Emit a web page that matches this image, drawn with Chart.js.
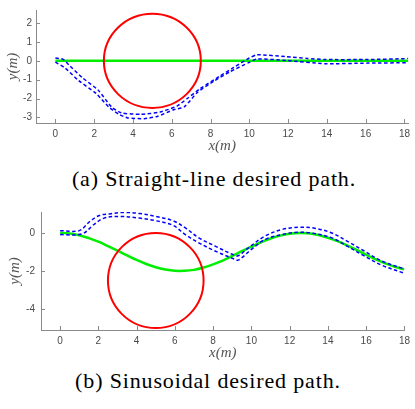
<!DOCTYPE html>
<html>
<head>
<meta charset="utf-8">
<script src="https://cdn.jsdelivr.net/npm/chart.js@4/dist/chart.umd.min.js"></script>
<style>
  html, body { margin: 0; padding: 0; background: #fff; overflow: hidden; width: 415px; height: 409px; }
  .box { position: absolute; left: 0; }
  canvas { display: block; }
  .cap { position: absolute; left: 0; width: 415px; box-sizing: border-box; text-align: center; white-space: nowrap;
         font-family: 'Liberation Serif', serif; font-size: 22px; line-height: 22px; letter-spacing: 0.85px; color: #000; }
</style>
</head>
<body>
<div class="box" style="top:0px;"><canvas id="c1" width="415" height="157"></canvas></div>
<div class="cap" id="capA" style="top:168px; padding-left:13px;">(a) Straight-line desired path.</div>
<div class="box" style="top:200px;"><canvas id="c2" width="415" height="164"></canvas></div>
<div class="cap" id="capB" style="top:370px; padding-left:1px;">(b) Sinusoidal desired path.</div>
<script>
// ---------- data ----------
const xTickValues = [0, 2, 4, 6, 8, 10, 12, 14, 16, 18];
const topYTickValues = [-3, -2, -1, 0, 1, 2];
const botYTickValues = [-4, -2, 0];

// (a) straight-line path
const topPathX = [0, 18.2];
const topPathY = [0, 0];
const topTrackAX = [0, 0.4, 0.7, 1.4, 2.2, 2.9, 3.4, 4.4, 5.4, 6.27, 6.8, 7.46, 8.47, 9.2, 10.0, 10.4, 11.9, 13.0, 13.9, 16.1, 18.2];
const topTrackAY = [0.15, 0.08, -0.22, -0.9, -1.55, -2.45, -2.76, -2.84, -2.72, -2.4, -2.0, -1.48, -0.82, -0.35, 0.15, 0.32, 0.22, 0.13, 0.07, 0.07, 0.12];
const topTrackBX = [0, 0.5, 1.2, 2.1, 2.75, 3.3, 3.73, 4.58, 5.25, 6.1, 6.64, 7.32, 8.17, 9.0, 10.0, 10.4, 11.9, 13.9, 16.1, 18.2];
const topTrackBY = [-0.07, -0.38, -1.05, -1.73, -2.45, -2.85, -3.03, -3.07, -2.95, -2.6, -2.45, -1.68, -1.08, -0.58, -0.08, 0.1, 0.02, -0.15, -0.12, -0.1];
const topObstacleCenter = [5, 0];
const topObstacleRadius = 2.5;

// (b) sinusoidal path
const botPathX = [0, 0.5, 1, 1.5, 2, 2.5, 3, 3.5, 4, 4.5, 5, 5.5, 6, 6.5, 7, 7.5, 8, 8.5, 9, 9.5, 10, 10.5, 11, 11.5, 12, 12.5, 13, 13.5, 14, 14.5, 15, 15.5, 16, 16.5, 17, 17.5, 18];
const botPathY = [0, -0.03, -0.12, -0.27, -0.46, -0.69, -0.93, -1.18, -1.42, -1.63, -1.80, -1.92, -1.99, -1.99, -1.94, -1.82, -1.65, -1.45, -1.21, -0.96, -0.72, -0.49, -0.29, -0.14, -0.04, 0, -0.02, -0.11, -0.25, -0.43, -0.65, -0.89, -1.15, -1.39, -1.60, -1.78, -1.91];
const botTrackAX = [0, 1.0, 1.55, 2.05, 2.6, 3.3, 4.15, 5.0, 5.9, 6.55, 7.25, 8.1, 9.0, 9.3, 9.85, 10.7, 11.6, 12.5, 13.3, 14.2, 15.0, 15.9, 16.8, 18];
const botTrackAY = [0.12, 0.12, 0.6, 0.92, 1.0, 1.08, 1.02, 0.87, 0.64, 0.26, -0.26, -0.69, -1.12, -1.2, -0.78, -0.17, 0.18, 0.3, 0.25, 0.0, -0.43, -0.95, -1.47, -1.9];
const botTrackBX = [0, 1.15, 1.75, 2.3, 3.1, 4.15, 5.0, 5.9, 6.55, 7.25, 8.1, 9.0, 9.3, 10.0, 10.7, 11.6, 12.5, 13.3, 14.2, 15.0, 15.9, 16.8, 18];
const botTrackBY = [-0.09, -0.05, 0.43, 0.78, 0.87, 0.78, 0.64, 0.4, -0.09, -0.52, -0.95, -1.33, -1.43, -0.86, -0.35, -0.09, 0.04, -0.03, -0.26, -0.69, -1.21, -1.69, -2.12];
const botObstacleCenter = [5, -2.5];
const botObstacleRadius = 2.5;

// ---------- helpers ----------
const zip = (xs, ys) => xs.map((x, i) => ({ x: x, y: ys[i] }));
const AXIS_COLOR = '#8a8a8a';
const LABEL_COLOR = '#4a4a4a';
const tickFont = { family: "'Liberation Sans', sans-serif", size: 10 };
const titleFont = { family: "'Liberation Serif', serif", size: 15, style: 'italic' };

const inwardTicks = {
  id: 'inwardTicks',
  afterDraw(chart) {
    const { ctx, chartArea: a, scales: { x, y } } = chart;
    ctx.save();
    ctx.strokeStyle = AXIS_COLOR;
    ctx.lineWidth = 1;
    ctx.beginPath();
    x.ticks.forEach(t => {
      const px = Math.round(x.getPixelForValue(t.value)) + 0.5;
      ctx.moveTo(px, a.bottom); ctx.lineTo(px, a.bottom - 4);
    });
    y.ticks.forEach(t => {
      const py = Math.round(y.getPixelForValue(t.value)) + 0.5;
      ctx.moveTo(a.left, py); ctx.lineTo(a.left + 4, py);
    });
    ctx.stroke();
    ctx.restore();
  }
};

const obstacle = {
  id: 'obstacle',
  afterDatasetDraw(chart, args, opts) {
    if (args.index !== opts.afterIndex) return;
    const { ctx, chartArea: a, scales: { x, y } } = chart;
    const cx = x.getPixelForValue(opts.center[0]);
    const cy = y.getPixelForValue(opts.center[1]);
    const rx = Math.abs(x.getPixelForValue(opts.center[0] + opts.radius) - cx);
    const ry = Math.abs(y.getPixelForValue(opts.center[1] + opts.radius) - cy);
    ctx.save();
    ctx.beginPath(); ctx.rect(a.left, a.top, a.right - a.left, a.bottom - a.top); ctx.clip();
    ctx.beginPath();
    ctx.ellipse(cx, cy, rx, ry, 0, 0, Math.PI * 2);
    ctx.strokeStyle = '#ff0000';
    ctx.lineWidth = 2;
    ctx.stroke();
    ctx.restore();
  }
};

function makeChart(id, cfg) {
  const trackStyle = { borderColor: '#0000ff', borderWidth: 1.5, borderDash: [3.5, 2.5], pointRadius: 0, fill: false, tension: cfg.trackTension };
  return new Chart(document.getElementById(id), {
    type: 'line',
    data: {
      datasets: [
        Object.assign({ data: zip(cfg.trackAX, cfg.trackAY) }, trackStyle),
        Object.assign({ data: zip(cfg.trackBX, cfg.trackBY) }, trackStyle),
        { data: zip(cfg.pathX, cfg.pathY), borderColor: '#00ee00', borderWidth: 2.5, pointRadius: 0, fill: false, tension: 0.4 }
      ]
    },
    options: {
      responsive: false,
      animation: false,
      devicePixelRatio: 1,
      layout: { autoPadding: false, padding: { top: cfg.padTop, right: cfg.padRight, left: 0, bottom: 0 } },
      plugins: {
        legend: { display: false },
        tooltip: { enabled: false },
        obstacle: { center: cfg.center, radius: cfg.radius, afterIndex: 2 }
      },
      scales: {
        x: {
          type: 'linear', position: 'bottom', min: -1, max: cfg.xMax,
          afterBuildTicks: s => { s.ticks = xTickValues.map(v => ({ value: v })); },
          afterFit: s => { s.height = 34; },
          grid: { display: false, drawTicks: false },
          border: { display: true, color: AXIS_COLOR, width: 1 },
          ticks: { autoSkip: false, maxRotation: 0, padding: 5, color: LABEL_COLOR, font: tickFont, callback: v => String(v) },
          title: { display: true, text: 'x(m)', color: '#555', font: titleFont, padding: { top: 0, bottom: 2 } }
        },
        y: {
          type: 'linear', position: 'left', min: cfg.yMin, max: cfg.yMax,
          afterBuildTicks: s => { s.ticks = cfg.yTicks.map(v => ({ value: v })); },
          afterFit: s => { s.width = cfg.yWidth; },
          grid: { display: false, drawTicks: false },
          border: { display: true, color: AXIS_COLOR, width: 1 },
          ticks: { padding: cfg.yPad, color: LABEL_COLOR, font: tickFont, callback: v => String(v) },
          title: { display: true, text: 'y(m)', color: '#555', font: titleFont, padding: { top: cfg.yTitlePad, bottom: 0 } }
        }
      }
    },
    plugins: [obstacle, inwardTicks]
  });
}

makeChart('c1', {
  trackAX: topTrackAX, trackAY: topTrackAY, trackBX: topTrackBX, trackBY: topTrackBY,
  pathX: topPathX, pathY: topPathY, center: topObstacleCenter, radius: topObstacleRadius,
  trackTension: 0.2, padTop: 3, padRight: 0, xMax: 18.2, yMin: -3.3, yMax: 2.7,
  yTicks: topYTickValues, yWidth: 36, yPad: 4, yTitlePad: 4
});
makeChart('c2', {
  trackAX: botTrackAX, trackAY: botTrackAY, trackBX: botTrackBX, trackBY: botTrackBY,
  pathX: botPathX, pathY: botPathY, center: botObstacleCenter, radius: botObstacleRadius,
  trackTension: 0.35, padTop: 10, padRight: 8, xMax: 18, yMin: -5.1, yMax: 1.1,
  yTicks: botYTickValues, yWidth: 41, yPad: 6, yTitlePad: 6
});
</script>
</body>
</html>
